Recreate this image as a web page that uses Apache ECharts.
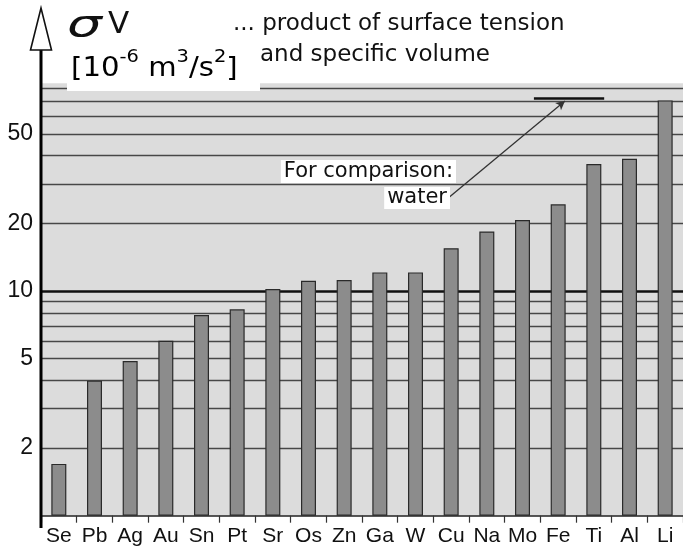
<!DOCTYPE html>
<html>
<head>
<meta charset="utf-8">
<script src="https://cdn.jsdelivr.net/npm/echarts@6/dist/echarts.min.js"></script>
<style>
html,body{margin:0;padding:0;background:#fff;}
#chart{width:683px;height:552px;}
</style>
</head>
<body>
<div id="chart"></div>
<script>
const categories = ['Se','Pb','Ag','Au','Sn','Pt','Sr','Os','Zn','Ga','W','Cu','Na','Mo','Fe','Ti','Al','Li'];
const values = [1.70, 3.99, 4.88, 6.01, 7.82, 8.29, 10.2, 11.1, 11.2, 12.1, 12.1, 15.5, 18.4, 20.7, 24.3, 36.7, 38.8, 70.5];
const yTickLabels = [2, 5, 10, 20, 50];
const minorGridValues = [2, 3, 4, 5, 6, 7, 8, 9, 20, 30, 40, 50, 60, 70, 80];
const majorGridValue = 10;
const waterValue = 72;

const narrow = '"Liberation Sans Narrow", "Liberation Sans", sans-serif';
const geo = '"DejaVu Sans", sans-serif';

const chart = echarts.init(document.getElementById('chart'), null, {renderer: 'canvas'});

const gridLines = minorGridValues.map(v => ({yAxis: v, lineStyle: {color: '#474747', width: 1.3, type: 'solid'}}));
gridLines.push({yAxis: majorGridValue, lineStyle: {color: '#111', width: 2.6, type: 'solid'}});

chart.setOption({
  animation: false,
  backgroundColor: '#fff',
  grid: {left: 41, top: 83.3, width: 647, height: 432.4, show: true, backgroundColor: '#dcdcdc', borderWidth: 0},
  xAxis: [{
    type: 'category',
    data: categories,
    boundaryGap: true,
    axisLine: {show: true, lineStyle: {color: '#222', width: 1.5}},
    axisTick: {show: true, length: 7, interval: 0, lineStyle: {color: '#333', width: 1.2}},
    axisLabel: {interval: 0, fontFamily: narrow, fontSize: 21, color: '#111', margin: 10},
    splitLine: {show: false}
  }, {
    type: 'value', min: 0, max: 18, show: false
  }],
  yAxis: {
    type: 'log',
    logBase: 10,
    min: 1,
    max: 84,
    axisLine: {show: false},
    axisTick: {show: false},
    splitLine: {show: false},
    axisLabel: {
      customValues: yTickLabels,
      formatter: v => String(Math.round(v)),
      fontFamily: narrow, fontSize: 23, color: '#111', margin: 8
    }
  },
  series: [{
    type: 'line',
    data: [],
    z: 1,
    markLine: {
      silent: true,
      z: 1,
      symbol: ['none', 'none'],
      label: {show: false},
      data: gridLines
    }
  }, {
    type: 'bar',
    data: values,
    z: 3,
    barWidth: 15,
    itemStyle: {color: '#8c8c8c', borderColor: '#2a2a2a', borderWidth: 1.2}
  }, {
    type: 'line',
    xAxisIndex: 1,
    data: [],
    z: 6,
    markLine: {
      silent: true,
      z: 6,
      label: {show: false},
      data: [
        [{coord: [13.82, waterValue], symbol: 'none', lineStyle: {color: '#111', width: 2.5, type: 'solid'}},
         {coord: [15.79, waterValue], symbol: 'none'}],
        [{coord: [11.35, 25.4], symbol: 'none', lineStyle: {color: '#333', width: 1.3, type: 'solid'}},
         {coord: [14.69, 70.1], symbol: 'arrow', symbolSize: [7, 9]}]
      ]
    }
  }],
  graphic: [
    {type: 'rect', z: 10, shape: {x: 67, y: 0, width: 193, height: 91}, style: {fill: '#fff'}},
    {type: 'line', z: 20, shape: {x1: 41, y1: 528, x2: 41, y2: 49}, style: {stroke: '#000', lineWidth: 3}},
    {type: 'polygon', z: 20, shape: {points: [[30.5, 50], [41, 8], [51.5, 50]]}, style: {fill: '#fff', stroke: '#111', lineWidth: 1.6}},
    {type: 'text', z: 21, x: 67, y: 7, scaleX: 1.45, style: {text: 'σ', font: 'italic 38px ' + geo, fill: '#111'}},
    {type: 'text', z: 21, x: 108, y: 9, style: {text: 'V', font: '31px ' + geo, fill: '#111'}},
    {type: 'text', z: 21, x: 71, y: 48, scaleX: 1.08, style: {
      text: '{m|[10}{s|-6}{m| m}{s|3}{m|/s}{s|2}{m|]}',
      rich: {
        m: {fontFamily: 'DejaVu Sans', fontSize: 27, lineHeight: 34, color: '#111', verticalAlign: 'bottom'},
        s: {fontFamily: 'DejaVu Sans', fontSize: 18, lineHeight: 20, color: '#111', verticalAlign: 'top'}
      }
    }},
    {type: 'text', z: 21, x: 233, y: 13, style: {text: '... product of surface tension', font: '23px ' + geo, fill: '#111'}},
    {type: 'text', z: 21, x: 260, y: 44, style: {text: 'and specific volume', font: '23px ' + geo, fill: '#111'}},
    {type: 'text', z: 21, x: 456, y: 160, style: {text: 'For comparison:', font: '21px ' + geo, fill: '#111', align: 'right', backgroundColor: '#fff', padding: [1, 3, 1, 3]}},
    {type: 'text', z: 21, x: 450, y: 187, style: {text: 'water', font: '21px ' + geo, fill: '#111', align: 'right', backgroundColor: '#fff', padding: [0, 3, 1, 3]}}
  ]
});
</script>
</body>
</html>
